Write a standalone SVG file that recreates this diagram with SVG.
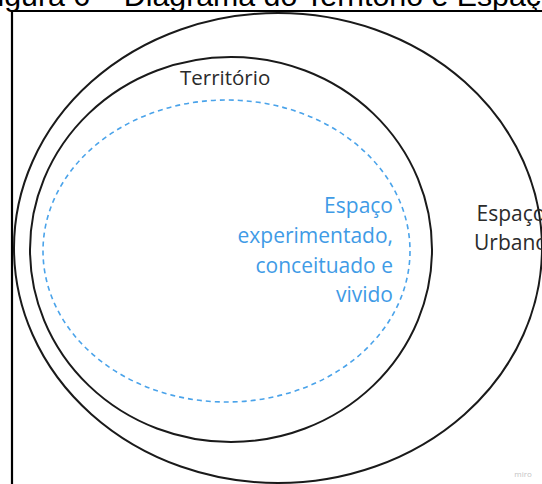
<svg xmlns="http://www.w3.org/2000/svg" width="542" height="484" viewBox="0 0 542 484">
<style>
.ring{fill:none;stroke:#1a1a1a;stroke-width:2}
.dash{fill:none;stroke:#4aa3ea;stroke-width:1.6;stroke-dasharray:5 4}
.lbl{font-family:"Open Sans","Noto Sans",sans-serif;font-size:21px;fill:#2b2b2b}
.blue{font-family:"Open Sans","Noto Sans",sans-serif;font-size:21px;fill:#3f9be6;text-anchor:end}
</style>
<rect width="542" height="484" fill="#ffffff"/>
<text x="-21" y="6" font-family="Liberation Sans, Arial, sans-serif" font-size="30.3" fill="#000">Figura 6 – Diagrama do Território e Espaço Urbano</text>
<path d="M12,484 V11 H542" fill="none" stroke="#000" stroke-width="2.2"/>
<g id="espaco-urbano">
<ellipse class="ring" cx="278" cy="248" rx="264" ry="235"/>
<text class="lbl" x="511" y="221" text-anchor="middle">Espaço</text>
<text class="lbl" x="511" y="250" text-anchor="middle">Urbano</text>
</g>
<g id="territorio">
<ellipse class="ring" cx="231" cy="249.5" rx="201" ry="192.5"/>
<text class="lbl" x="180" y="85" style="font-size:20.5px">Território</text>
</g>
<g id="espaco-vivido">
<ellipse class="dash" cx="226.5" cy="251" rx="183.5" ry="151"/>
<text class="blue" x="393" y="213">Espaço</text>
<text class="blue" x="393" y="243">experimentado,</text>
<text class="blue" x="393" y="273">conceituado e</text>
<text class="blue" x="393" y="302">vivido</text>
</g>
<g id="connectors"></g>
<text x="523" y="477" font-family="Open Sans, sans-serif" font-size="8" fill="#c4c4c4" text-anchor="middle">miro</text>
</svg>
